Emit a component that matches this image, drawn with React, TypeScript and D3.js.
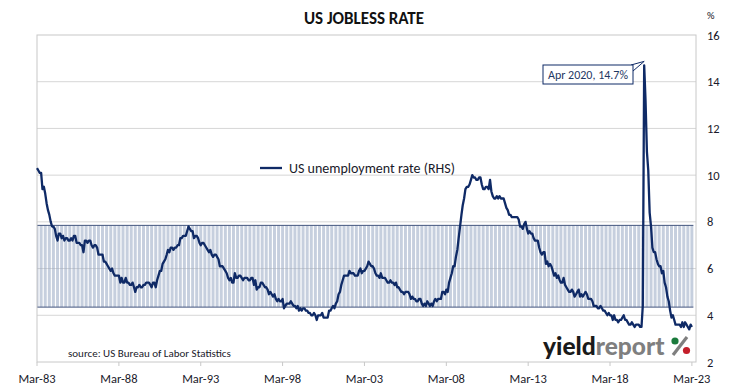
import React from 'react';
import * as d3 from 'd3';

// monthly US unemployment rate (%), starting Mar 1983
const rates1980s = [
  10.3, 10.2, 10.1, 10.1, 9.4, 9.5, 9.2, 8.8, 8.5, 8.3,
  8.0, 7.8, 7.8, 7.7, 7.4, 7.2, 7.5, 7.5, 7.3, 7.4, 7.2, 7.3,
  7.3, 7.2, 7.2, 7.3, 7.2, 7.4, 7.4, 7.1, 7.1, 7.1, 7.0, 7.0,
  6.7, 7.2, 7.2, 7.1, 7.2, 7.2, 7.0, 6.9, 7.0, 7.0, 6.9, 6.6,
  6.6, 6.6, 6.6, 6.3, 6.3, 6.2, 6.1, 6.0, 5.9, 6.0, 5.8, 5.7,
  5.7, 5.7, 5.7, 5.4, 5.6, 5.4, 5.4, 5.6, 5.4, 5.4, 5.3, 5.3,
  5.4, 5.2, 5.0, 5.2, 5.2, 5.3, 5.2, 5.2, 5.3, 5.3, 5.4, 5.4,
];
const rates1990s = [
  5.4, 5.3, 5.2, 5.4, 5.4, 5.2, 5.5, 5.7, 5.9, 5.9, 6.2, 6.3,
  6.4, 6.6, 6.8, 6.7, 6.9, 6.9, 6.8, 6.9, 6.9, 7.0, 7.0, 7.3,
  7.3, 7.4, 7.4, 7.4, 7.6, 7.8, 7.7, 7.6, 7.6, 7.3, 7.4, 7.4,
  7.3, 7.1, 7.0, 7.1, 7.1, 7.0, 6.9, 6.8, 6.7, 6.8, 6.6, 6.5,
  6.6, 6.6, 6.5, 6.4, 6.1, 6.1, 6.1, 6.0, 5.9, 5.8, 5.6, 5.5,
  5.6, 5.4, 5.4, 5.8, 5.6, 5.6, 5.7, 5.7, 5.6, 5.5, 5.6, 5.6,
  5.6, 5.5, 5.5, 5.6, 5.6, 5.3, 5.5, 5.1, 5.2, 5.2, 5.4, 5.4,
  5.3, 5.2, 5.2, 5.1, 4.9, 5.0, 4.9, 4.8, 4.9, 4.7, 4.6, 4.7,
  4.6, 4.6, 4.7, 4.3, 4.4, 4.5, 4.5, 4.5, 4.6, 4.5, 4.4, 4.4,
  4.3, 4.4, 4.2, 4.3, 4.2, 4.3, 4.3, 4.2, 4.2, 4.1, 4.1, 4.0,
];
const rates2000s = [
  4.0, 4.1, 4.0, 3.8, 4.0, 4.0, 4.0, 4.1, 3.9, 3.9, 3.9, 3.9,
  4.2, 4.2, 4.3, 4.4, 4.3, 4.5, 4.6, 4.9, 5.0, 5.3, 5.5, 5.7,
  5.7, 5.7, 5.7, 5.9, 5.8, 5.8, 5.8, 5.7, 5.7, 5.7, 5.9, 6.0,
  5.8, 5.9, 5.9, 6.0, 6.1, 6.3, 6.2, 6.1, 6.1, 6.0, 5.8, 5.7,
  5.7, 5.6, 5.8, 5.6, 5.6, 5.6, 5.5, 5.4, 5.4, 5.5, 5.4, 5.4,
  5.3, 5.4, 5.2, 5.2, 5.1, 5.0, 5.0, 4.9, 5.0, 5.0, 5.0, 4.9,
  4.7, 4.8, 4.7, 4.7, 4.6, 4.6, 4.7, 4.7, 4.5, 4.4, 4.5, 4.4,
  4.6, 4.5, 4.4, 4.5, 4.4, 4.6, 4.7, 4.6, 4.7, 4.7, 4.7, 5.0,
  5.0, 4.9, 5.1, 5.0, 5.4, 5.6, 5.8, 6.1, 6.1, 6.5, 6.8, 7.3,
  7.8, 8.3, 8.7, 9.0, 9.4, 9.5, 9.5, 9.6, 9.8, 10.0, 9.9, 9.9,
];
const rates2010s = [
  9.8, 9.8, 9.9, 9.9, 9.6, 9.4, 9.4, 9.5, 9.5, 9.4, 9.8, 9.3,
  9.1, 9.0, 9.0, 9.1, 9.0, 9.1, 9.0, 9.0, 9.0, 8.8, 8.6, 8.5,
  8.3, 8.3, 8.2, 8.2, 8.2, 8.2, 8.2, 8.1, 7.8, 7.8, 7.7, 7.9,
  8.0, 7.7, 7.5, 7.6, 7.5, 7.5, 7.3, 7.2, 7.2, 7.2, 6.9, 6.7,
  6.6, 6.7, 6.7, 6.2, 6.3, 6.1, 6.2, 6.1, 5.9, 5.7, 5.8, 5.6,
  5.7, 5.5, 5.4, 5.4, 5.6, 5.3, 5.2, 5.1, 5.0, 5.0, 5.1, 5.0,
  4.8, 4.9, 5.0, 5.1, 4.8, 4.9, 4.8, 4.9, 5.0, 4.9, 4.7, 4.7,
  4.7, 4.6, 4.4, 4.4, 4.4, 4.3, 4.3, 4.4, 4.3, 4.2, 4.2, 4.1,
  4.0, 4.1, 4.0, 4.0, 3.8, 4.0, 3.8, 3.8, 3.7, 3.8, 3.8, 3.9,
  4.0, 3.8, 3.8, 3.7, 3.6, 3.6, 3.7, 3.6, 3.5, 3.6, 3.6, 3.6,
];
const rates2020s = [
  3.5, 3.5, 4.4, 14.7, 13.2, 11.0, 10.2, 8.4, 7.8, 6.9, 6.7, 6.7,
  6.4, 6.2, 6.1, 6.1, 5.8, 5.9, 5.4, 5.2, 4.8, 4.6, 4.2, 3.9,
  4.0, 3.8, 3.6, 3.6, 3.6, 3.6, 3.5, 3.7, 3.5, 3.7, 3.6, 3.5,
  3.4, 3.6, 3.5,
];

// shaded range (long-run mean +/- 1 s.d.)
const bandLow = 4.35;
const bandHigh = 7.85;

const yTicks = [2, 4, 6, 8, 10, 12, 14, 16];
const xTickYears = [1983, 1988, 1993, 1998, 2003, 2008, 2013, 2018, 2023];
const peakLabel = 'Apr 2020, 14.7%';

const FONT = 'Calibri, Carlito, Lato, sans-serif';
const NAVY = '#0f2a66';

export default function App() {
  const W = 729, H = 388;
  const left = 37, right = 696, top = 35, bottom = 362;

  const rates = [...rates1980s, ...rates1990s, ...rates2000s, ...rates2010s, ...rates2020s];
  const start = new Date(1983, 2, 1);
  const data = rates.map((v, i) => ({ date: d3.timeMonth.offset(start, i), v }));

  const x = d3.scaleTime().domain([start, new Date(2023, 5, 1)]).range([left, right]);
  const y = d3.scaleLinear().domain([2, 16]).range([bottom, top]);

  const line = d3.line<{ date: Date; v: number }>()
    .x(d => x(d.date))
    .y(d => y(d.v));

  // quarterly columns for the shaded band
  const quarters = data.filter((_, i) => i % 3 === 0).map(d => d.date);
  const step = x(quarters[1]) - x(quarters[0]);
  const bw = step * 0.72;
  const bandRight = x(quarters[quarters.length - 1]) + bw / 2;

  const peak = data.reduce((a, b) => (b.v > a.v ? b : a));
  const px = x(peak.date), py = y(peak.v) - 4;

  const box = { x: 543, y: 65, w: 90, h: 19 };

  return (
    <svg width={W} height={H} style={{ position: 'absolute', left: 0, top: 0, background: '#fff' }}>
      <defs>
        <clipPath id="plot">
          <rect x={left} y={top} width={right - left} height={bottom - top} />
        </clipPath>
      </defs>

      <text x={364} y={24} textAnchor="middle" fontFamily={FONT} fontWeight="bold" fontSize={17} fill="#111">
        US JOBLESS RATE
      </text>

      {/* gridlines */}
      {yTicks.slice(1, -1).map(t => (
        <line key={t} x1={left} x2={right} y1={y(t)} y2={y(t)} stroke="#d6d6d6" strokeWidth={1} />
      ))}

      {/* band */}
      <g clipPath="url(#plot)">
        {quarters.map((d, i) => (
          <rect key={i} x={x(d) - bw / 2} y={y(bandHigh)} width={bw} height={y(bandLow) - y(bandHigh)}
            fill="#97a8c2" fillOpacity={0.55} />
        ))}
      </g>
      <line x1={left} x2={bandRight} y1={y(bandHigh)} y2={y(bandHigh)} stroke="#43557e" strokeWidth={1} />
      <line x1={left} x2={bandRight} y1={y(bandLow)} y2={y(bandLow)} stroke="#43557e" strokeWidth={1} />

      {/* plot border */}
      <rect x={left} y={top} width={right - left} height={bottom - top} fill="none" stroke="#c8c8c8" strokeWidth={1} />

      {/* x axis */}
      {xTickYears.map(yr => {
        const tx = x(new Date(yr, 2, 1));
        return (
          <g key={yr}>
            <line x1={tx} x2={tx} y1={bottom} y2={bottom + 4} stroke="#c8c8c8" />
            <text x={tx} y={383} textAnchor="middle" fontFamily={FONT} fontSize={12.5} fill="#1a1a2a">
              {`Mar-${String(yr).slice(2)}`}
            </text>
          </g>
        );
      })}

      {/* right axis */}
      {yTicks.map(t => (
        <text key={t} x={707} y={y(t) + 4.5} fontFamily={FONT} fontSize={12.5} fill="#1a1a2a">{t}</text>
      ))}
      <text x={707} y={19} fontFamily={FONT} fontSize={10.5} fill="#1a1a2a">%</text>

      {/* series */}
      <path d={line(data) || ''} fill="none" stroke={NAVY} strokeWidth={2.3} strokeLinejoin="round" />

      {/* legend */}
      <line x1={260} x2={282} y1={168} y2={168} stroke={NAVY} strokeWidth={2.3} />
      <text x={289} y={173} fontFamily={FONT} fontSize={14} fill="#1a1a2a">US unemployment rate (RHS)</text>

      {/* callout */}
      <path d={`M${box.x + box.w - 2},${box.y} L${px},${py} L${box.x + box.w},${box.y + 6}`} fill="#fff" stroke={NAVY} strokeWidth={1} />
      <rect x={box.x} y={box.y} width={box.w} height={box.h} fill="#fff" stroke={NAVY} strokeWidth={1} />
      <text x={box.x + box.w / 2} y={box.y + 14} textAnchor="middle" fontFamily={FONT} fontSize={12} fill="#1f3864">
        {peakLabel}
      </text>

      {/* source */}
      <text x={68} y={357} fontFamily={FONT} fontSize={11} fill="#1a1a2a">source: US Bureau of Labor Statistics</text>

      {/* logo */}
      <text x={543} y={355} fontFamily="Lato, sans-serif" fontWeight="900" fontSize={24.5}>
        <tspan fill="#1a1a1a">yield</tspan>
        <tspan fill="#7f7f7f">report</tspan>
      </text>
      <line x1={673} y1={355} x2={687} y2={337} stroke="#7f7f7f" strokeWidth={3.2} />
      <circle cx={675} cy={341} r={3.6} fill="#1a7a3c" />
      <circle cx={686.5} cy={350.5} r={3.6} fill="#c41e2a" />
    </svg>
  );
}
